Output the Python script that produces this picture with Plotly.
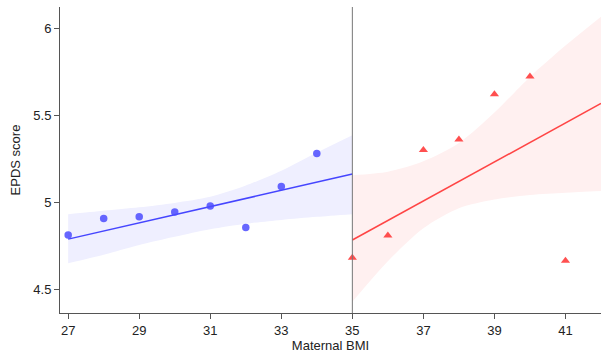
import plotly.graph_objects as go

# Observed data
bmi_low = [27, 28, 29, 30, 31, 32, 33, 34]
epds_low = [4.81, 4.906, 4.916, 4.943, 4.977, 4.854, 5.09, 5.28]
bmi_high = [35, 36, 37, 38, 39, 40, 41]
epds_high = [4.68, 4.808, 5.30, 5.36, 5.62, 5.722, 4.663]

# Fitted lines (endpoints)
fit_low_x = [27, 35]
fit_low_y = [4.787, 5.161]
fit_high_x = [35, 42]
fit_high_y = [4.782, 5.567]

# Confidence bands
band_low_x = [27, 28, 29, 30, 31, 32, 33, 34, 35]
band_low_upper = [4.93, 4.95, 4.97, 4.995, 5.03, 5.095, 5.18, 5.285, 5.385]
band_low_lower = [4.648, 4.697, 4.753, 4.80, 4.843, 4.875, 4.897, 4.915, 4.93]
band_high_x = [35, 36, 37, 38, 39, 40, 41, 42]
band_high_upper = [5.155, 5.175, 5.235, 5.34, 5.515, 5.72, 5.9, 6.066]
band_high_lower = [4.427, 4.66, 4.85, 4.965, 5.015, 5.04, 5.053, 5.063]

x_ticks = [27, 29, 31, 33, 35, 37, 39, 41]
y_ticks = [4.5, 5, 5.5, 6]
cutoff = 35

fig = go.Figure()

def band(xs, up, lo, color):
    fig.add_trace(go.Scatter(x=xs, y=lo, mode="lines",
                             line=dict(width=0, shape="spline", smoothing=0.8),
                             hoverinfo="skip", showlegend=False))
    fig.add_trace(go.Scatter(x=xs, y=up, mode="lines", fill="tonexty", fillcolor=color,
                             line=dict(width=0, shape="spline", smoothing=0.8),
                             hoverinfo="skip", showlegend=False))

band(band_low_x, band_low_upper, band_low_lower, "#efefff")
band(band_high_x, band_high_upper, band_high_lower, "#fff0f0")

fig.add_trace(go.Scatter(x=fit_low_x, y=fit_low_y, mode="lines",
                         line=dict(color="#4545ff", width=1.5), showlegend=False))
fig.add_trace(go.Scatter(x=fit_high_x, y=fit_high_y, mode="lines",
                         line=dict(color="#ff4545", width=1.5), showlegend=False))

fig.add_trace(go.Scatter(x=bmi_low, y=epds_low, mode="markers",
                         marker=dict(symbol="circle", size=7.5, color="rgba(75,75,255,0.85)",
                                     line=dict(width=0)), showlegend=False))
fig.add_trace(go.Scatter(x=bmi_high, y=epds_high, mode="markers",
                         marker=dict(symbol="triangle-up", size=8, color="rgba(255,60,60,0.9)",
                                     line=dict(width=0)), showlegend=False))

fig.add_shape(type="line", x0=cutoff, x1=cutoff, y0=0, y1=1, yref="paper",
              line=dict(color="#777777", width=1))

axis_common = dict(showgrid=False, zeroline=False, showline=True, linecolor="#555555",
                   linewidth=1, ticks="outside", ticklen=5, tickcolor="#555555",
                   tickfont=dict(family="Liberation Sans, Arial", size=13, color="#222222"))

fig.update_layout(
    width=601, height=353,
    margin=dict(l=60, r=0, t=7, b=40),
    plot_bgcolor="white", paper_bgcolor="white",
    xaxis=dict(range=[26.77, 42.0], tickvals=x_ticks,
               title=dict(text="Maternal BMI", standoff=2,
                          font=dict(family="Liberation Sans, Arial", size=13, color="#222222")),
               **axis_common),
    yaxis=dict(range=[4.362, 6.122], tickvals=y_ticks, ticktext=["4.5", "5", "5.5", "6"],
               title=dict(text="EPDS score", standoff=9,
                          font=dict(family="Liberation Sans, Arial", size=13, color="#222222")),
               **axis_common),
)

fig.write_html("out.html")
